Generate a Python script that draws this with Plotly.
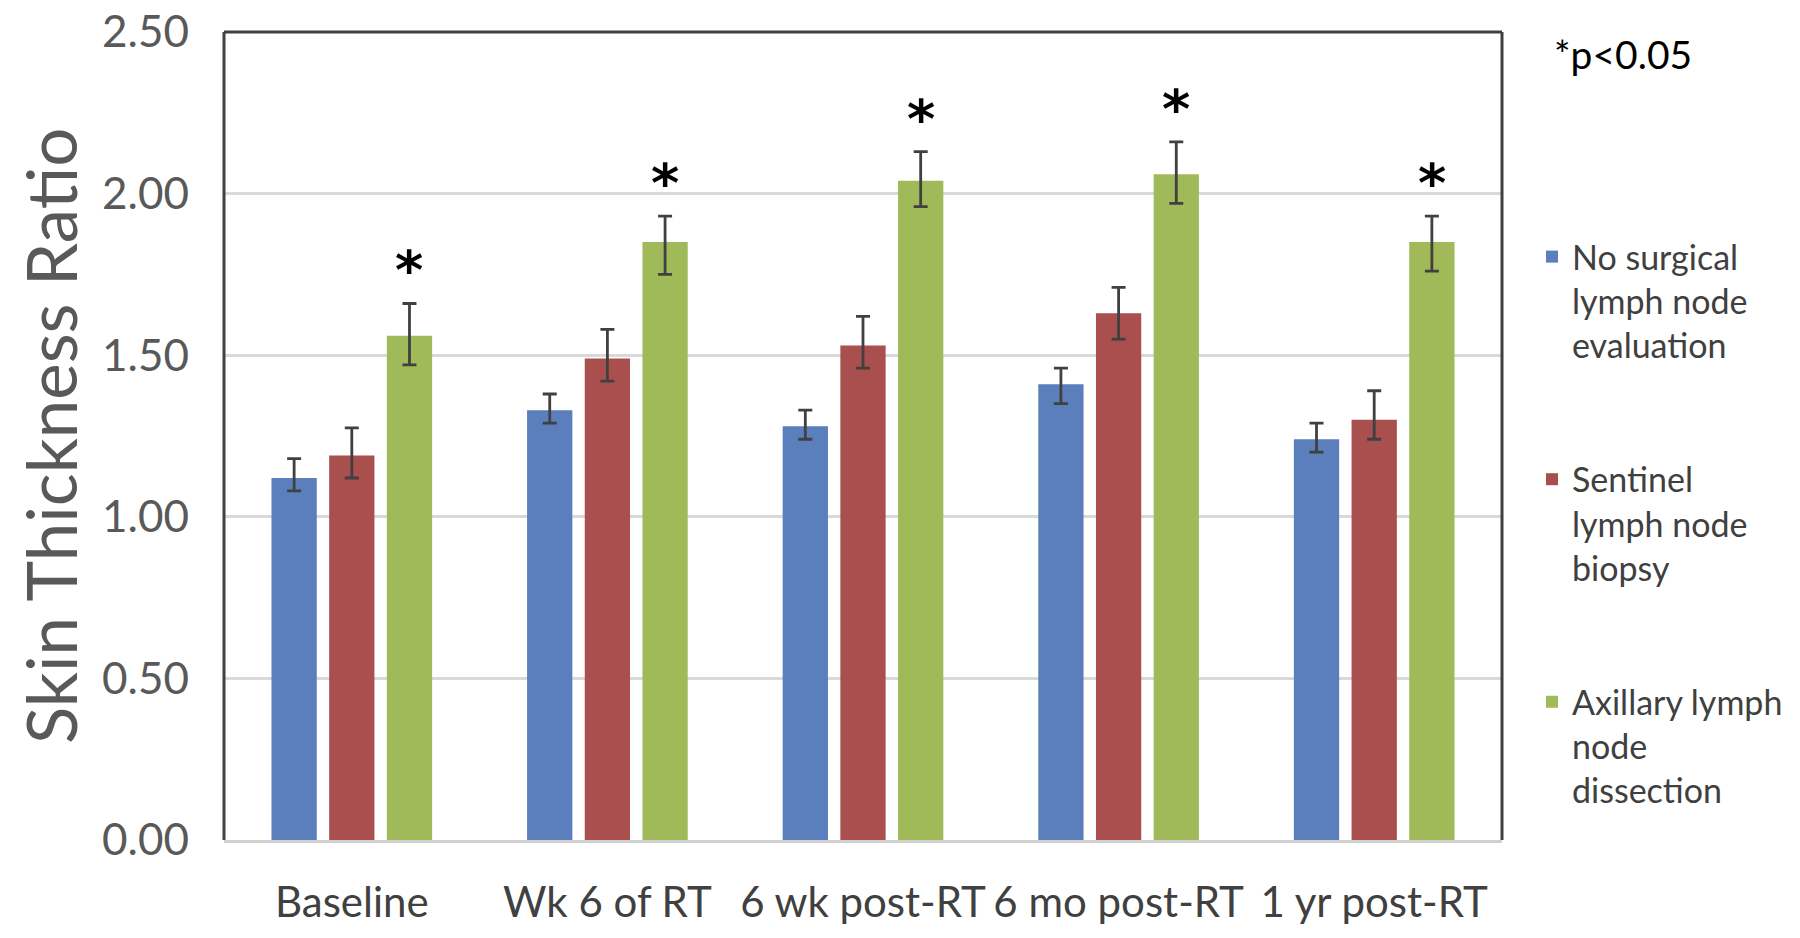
import plotly.graph_objects as go

categories = ["Baseline", "Wk 6 of RT", "6 wk post-RT", "6 mo post-RT", "1 yr post-RT"]

series_names = [
    "No surgical<br>lymph node<br>evaluation",
    "Sentinel<br>lymph node<br>biopsy",
    "Axillary lymph<br>node<br>dissection",
]

no_surgery = [1.12, 1.33, 1.28, 1.41, 1.24]
no_surgery_hi = [1.18, 1.38, 1.33, 1.46, 1.29]
no_surgery_lo = [1.08, 1.29, 1.24, 1.35, 1.20]

sentinel = [1.19, 1.49, 1.53, 1.63, 1.30]
sentinel_hi = [1.275, 1.58, 1.62, 1.71, 1.39]
sentinel_lo = [1.12, 1.42, 1.46, 1.55, 1.24]

axillary = [1.56, 1.85, 2.04, 2.06, 1.85]
axillary_hi = [1.66, 1.93, 2.13, 2.16, 1.93]
axillary_lo = [1.47, 1.75, 1.96, 1.97, 1.76]

significant = [True, True, True, True, True]

y_ticks = [0.0, 0.5, 1.0, 1.5, 2.0, 2.5]
y_title = "Skin Thickness Ratio"
note = "*p<0.05"

colors = ["#5b7fbc", "#a94f4d", "#a0ba5a"]

OFF = 8  # page body margin
W, H = 1800, 938
ml, mt = 224 - OFF, 32 - OFF
mr = W - (1502 - OFF)
mb = H - (840 - OFF)
plot_w = W - ml - mr
plot_h = H - mt - mb
bargap = 0.323
bargroupgap = 0.215

font_main = "Lato"


def px_x(x):
    return (x - OFF - ml) / plot_w


def px_y(y):
    return (H - mb - (y - OFF)) / plot_h


fig = go.Figure()
for name, vals, hi, lo, col in [
    (series_names[0], no_surgery, no_surgery_hi, no_surgery_lo, colors[0]),
    (series_names[1], sentinel, sentinel_hi, sentinel_lo, colors[1]),
    (series_names[2], axillary, axillary_hi, axillary_lo, colors[2]),
]:
    fig.add_trace(go.Bar(
        x=categories, y=vals, name=name,
        marker=dict(color=col, line=dict(width=0)),
        legendgroup=name,
        error_y=dict(
            type="data", symmetric=False,
            array=[h - v for h, v in zip(hi, vals)],
            arrayminus=[v - l for v, l in zip(vals, lo)],
            color="#404040", thickness=2.8, width=7,
        ),
    ))

# significance asterisks above the green bars
slot = plot_w / len(categories) * (1 - bargap) / 3
for cat, top, sig in zip(categories, axillary_hi, significant):
    if sig:
        fig.add_annotation(
            x=cat, y=top, xref="x", yref="y", text="<b>*</b>", showarrow=False,
            xshift=slot, yanchor="bottom", yshift=-1,
            font=dict(family="DejaVu Sans", size=54, color="#000000"),
        )

fig.add_annotation(
    x=px_x(50), y=0.5, xref="paper", yref="paper",
    text=y_title, textangle=-90, showarrow=False,
    xanchor="center", yanchor="middle",
    font=dict(family=font_main, size=69, color="#595959"),
)
fig.add_annotation(
    x=px_x(1552), y=px_y(54), xref="paper", yref="paper",
    text=note, showarrow=False, xanchor="left", yanchor="middle",
    font=dict(family=font_main, size=39, color="#000000"),
)

frame = "#404040"
for x0, y0, x1, y1 in [(0, 0, 0, 1), (0, 1, 1, 1), (1, 1, 1, 0)]:
    fig.add_shape(type="line", xref="paper", yref="paper",
                  x0=x0, y0=y0, x1=x1, y1=y1,
                  line=dict(color=frame, width=3))

fig.update_layout(
    width=W, height=H,
    margin=dict(l=ml, r=mr, t=mt, b=mb, autoexpand=False),
    paper_bgcolor="white", plot_bgcolor="white",
    barmode="group", bargap=bargap, bargroupgap=bargroupgap,
    showlegend=True,
    legend=dict(
        x=px_x(1532), y=px_y(228),
        xanchor="left", yanchor="top",
        font=dict(family=font_main, size=34, color="#404040"),
        valign="top", tracegroupgap=87, traceorder="grouped",
        bgcolor="rgba(0,0,0,0)",
    ),
    xaxis=dict(
        showgrid=False, showline=True, linecolor="#d0d0d0", linewidth=3,
        ticks="", tickangle=0, ticklabeloverflow="allow",
        tickfont=dict(family=font_main, size=42, color="#404040"),
        ticklabelstandoff=24,
    ),
    yaxis=dict(
        range=[0, 2.5], tickvals=y_ticks, tickformat=".2f",
        showgrid=True, gridcolor="#d9d9d9", gridwidth=2.5,
        zeroline=False, showline=False, ticks="", ticklabeloverflow="allow",
        tickfont=dict(family=font_main, size=44, color="#595959"),
        ticklabelstandoff=34,
    ),
)

fig.write_html("out.html")
